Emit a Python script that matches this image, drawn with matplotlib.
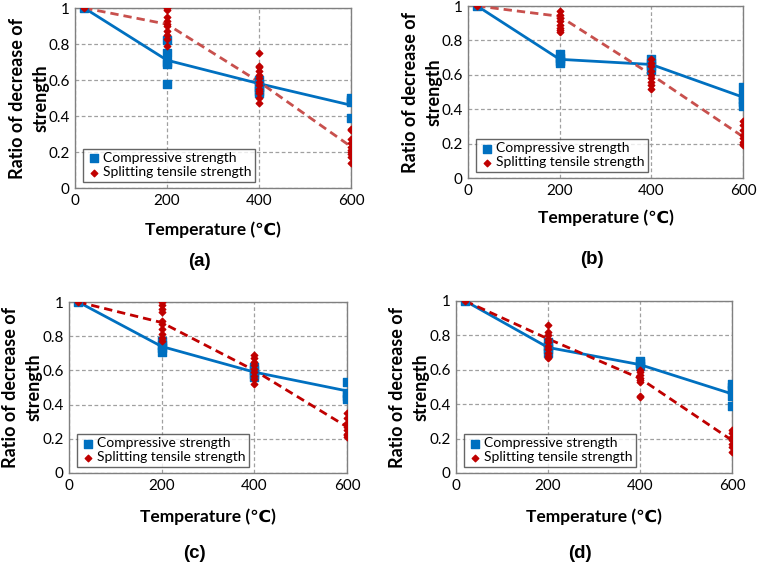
import numpy as np
import matplotlib
matplotlib.use('Agg')
import matplotlib.pyplot as plt

plt.rcParams['font.family'] = ['Lato', 'DejaVu Sans']

# temperatures of the mean lines
temps = [20, 200, 400, 600]

# mean curves per panel
comp_mean = {
    'a': [1.0, 0.71, 0.58, 0.46],
    'b': [1.0, 0.69, 0.66, 0.47],
    'c': [1.0, 0.74, 0.59, 0.48],
    'd': [1.0, 0.73, 0.63, 0.46],
}
tens_mean = {
    'a': [1.0, 0.91, 0.59, 0.23],
    'b': [1.0, 0.94, 0.60, 0.24],
    'c': [1.0, 0.88, 0.60, 0.27],
    'd': [1.0, 0.78, 0.55, 0.19],
}

# individual specimens (temperature -> values)
comp_pts = {
    'a': {20: [1.0], 200: [0.82, 0.75, 0.70, 0.69, 0.58], 400: [0.60, 0.58, 0.56, 0.54, 0.53], 600: [0.50, 0.49, 0.48, 0.39]},
    'b': {20: [1.0], 200: [0.72, 0.70, 0.68, 0.67], 400: [0.69, 0.67, 0.65, 0.63], 600: [0.53, 0.48, 0.46, 0.44, 0.42]},
    'c': {20: [1.0], 200: [0.77, 0.75, 0.73, 0.71], 400: [0.62, 0.60, 0.58, 0.56], 600: [0.53, 0.47, 0.45, 0.43]},
    'd': {20: [1.0], 200: [0.76, 0.74, 0.72, 0.70], 400: [0.65, 0.64, 0.62], 600: [0.52, 0.50, 0.48, 0.45, 0.39]},
}
tens_pts = {
    'a': {20: [1.0], 200: [1.0, 0.99, 0.95, 0.93, 0.91, 0.90, 0.87, 0.85, 0.83, 0.79],
          400: [0.75, 0.68, 0.67, 0.65, 0.63, 0.61, 0.59, 0.57, 0.55, 0.54, 0.53, 0.50, 0.47],
          600: [0.33, 0.32, 0.27, 0.25, 0.23, 0.21, 0.20, 0.19, 0.17, 0.14]},
    'b': {20: [1.0], 200: [0.97, 0.95, 0.93, 0.91, 0.89, 0.87, 0.86, 0.85],
          400: [0.69, 0.67, 0.65, 0.62, 0.60, 0.58, 0.56, 0.54, 0.52],
          600: [0.33, 0.31, 0.28, 0.25, 0.23, 0.21, 0.20, 0.19]},
    'c': {20: [1.0], 200: [1.0, 0.98, 0.96, 0.94, 0.89, 0.87, 0.84, 0.81, 0.79, 0.77],
          400: [0.69, 0.67, 0.65, 0.63, 0.61, 0.59, 0.57, 0.55, 0.52],
          600: [0.35, 0.32, 0.29, 0.27, 0.25, 0.23, 0.22, 0.21]},
    'd': {20: [1.0], 200: [0.86, 0.82, 0.80, 0.78, 0.76, 0.74, 0.72, 0.70, 0.68, 0.67],
          400: [0.60, 0.59, 0.57, 0.55, 0.54, 0.53, 0.45, 0.44],
          600: [0.25, 0.23, 0.21, 0.19, 0.17, 0.15, 0.12]},
}

xticks = [0, 200, 400, 600]
yticks = [0, 0.2, 0.4, 0.6, 0.8, 1.0]
ytick_labels = ['0', '0.2', '0.4', '0.6', '0.8', '1']

W, H = 757, 563
fig = plt.figure(figsize=(W / 100, H / 100), dpi=100)

def px(l, t, r, b):
    return [l / W, 1 - b / H, (r - l) / W, (b - t) / H]

# panel: axes box (px), ylabel x, xlabel y, panel-label y, dashed colour
panels = {
    'a': dict(box=(75, 8, 351, 188), ylab=29, xlab=230, plab=262, red='#C8504D'),
    'b': dict(box=(468, 6, 743, 178), ylab=422, xlab=218, plab=260, red='#C8504D'),
    'c': dict(box=(69, 302, 347, 473), ylab=22, xlab=517, plab=553, red='#C00000'),
    'd': dict(box=(456, 301, 732, 473), ylab=409, xlab=517, plab=553, red='#C00000'),
}

blue = '#0070C0'
dred = '#C00000'

for key, p in panels.items():
    l, t, r, b = p['box']
    ax = fig.add_axes(px(l, t, r, b))
    cx, cy = [], []
    for T, vals in comp_pts[key].items():
        cx += [T] * len(vals)
        cy += vals
    tx, ty = [], []
    for T, vals in tens_pts[key].items():
        tx += [T] * len(vals)
        ty += vals
    ax.plot(temps, comp_mean[key], color=blue, lw=2, zorder=3)
    ax.plot(temps, tens_mean[key], color=p['red'], lw=2, ls=(0, (3, 1.8)), zorder=3)
    ax.scatter(cx, cy, marker='s', s=40, color=blue, zorder=4, label='Compressive strength')
    ax.scatter(tx, ty, marker='D', s=11, color=dred, zorder=5, label='Splitting tensile strength')

    ax.set_xlim(0, 600)
    ax.set_ylim(0, 1)
    ax.set_xticks(xticks)
    ax.set_yticks(yticks)
    ax.set_yticklabels(ytick_labels)
    ax.tick_params(length=0, labelsize=11, colors='black', pad=4)
    ax.grid(True, color='#A0A0A0', ls=(0, (3, 2)), lw=0.9)
    ax.set_axisbelow(True)
    for s in ax.spines.values():
        s.set_color('#808080')
        s.set_linewidth(1.0)

    leg = ax.legend(loc='lower left', bbox_to_anchor=(0.02, 0.02), fontsize=10,
                    frameon=True, fancybox=False, edgecolor='#404040',
                    handletextpad=0.2, borderpad=0.25, labelspacing=0.15,
                    handlelength=1.0, borderaxespad=0.2)
    leg.get_frame().set_linewidth(1.0)

    fig.text(p['ylab'] / W, 1 - (t + b) / 2 / H, 'Ratio of decrease of\nstrength',
             rotation=90, ha='center', va='center', ma='center',
             fontsize=13, fontweight='bold', linespacing=1.45)
    fig.text((l + r) / 2 / W, 1 - p['xlab'] / H, 'Temperature (\u2103)',
             ha='center', va='center', fontsize=12.5, fontweight='bold')
    fig.text((l + r) / 2 / W - 0.018, 1 - p['plab'] / H, '(%s)' % key,
             ha='center', va='center', fontsize=13.5, fontweight='bold',
             family='Liberation Sans')

fig.savefig('out.png', dpi=100)
